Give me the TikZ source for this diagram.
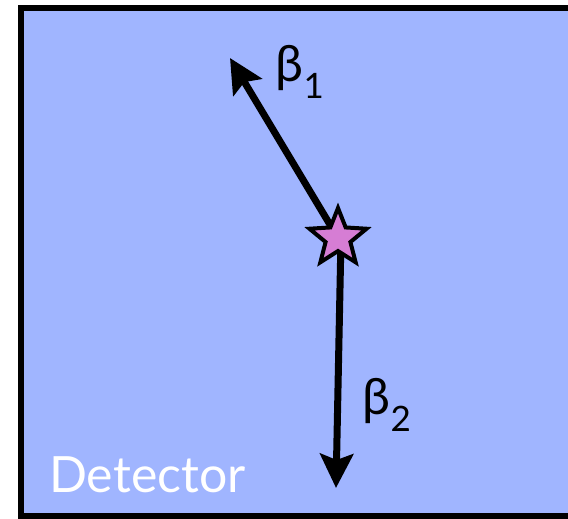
\documentclass[tikz,border=0pt]{standalone}
\usepackage{fontspec}
\setmainfont{Lato}
\usepackage{xcolor}
\usetikzlibrary{shapes.geometric,arrows.meta}

\definecolor{detblue}{RGB}{160,181,255}
\definecolor{starpink}{RGB}{214,125,212}

\begin{document}
\begin{tikzpicture}[
    x=1pt, y=-1pt,
    detector/.style={draw=black, line width=6pt, fill=detblue},
    track/.style={-{Stealth[length=34pt,width=33pt,inset=6pt]}, line width=7pt},
    decaystar/.style={star, star points=5, star point ratio=2.3, minimum size=60pt, inner sep=0pt, draw=black, line width=4pt, fill=starpink},
    label/.style={font=\fontsize{50}{50}\selectfont, inner sep=0pt},
]
\useasboundingbox (0,0) rectangle (568,519);
\clip (0,0) rectangle (568,519);
\draw[detector] (21,8) rectangle (620,516);
\node[font=\fontsize{50}{50}\selectfont, text=white, anchor=base west, inner sep=0pt] (name) at (49,492) {Detector};
% decay point and the two betas
\coordinate (origin) at (338,238);
\coordinate (end1) at (230,58);
\coordinate (end2) at (336,488);
\draw[track] (origin) -- (end1);
\draw[track] ([xshift=3pt]origin) -- (end2);
\node[decaystar] (decay) at (origin) {};
\node[label] (beta1) at (300,72) {β\textsubscript{1}};
\node[label] (beta2) at (387,405) {β\textsubscript{2}};
\end{tikzpicture}
\end{document}
